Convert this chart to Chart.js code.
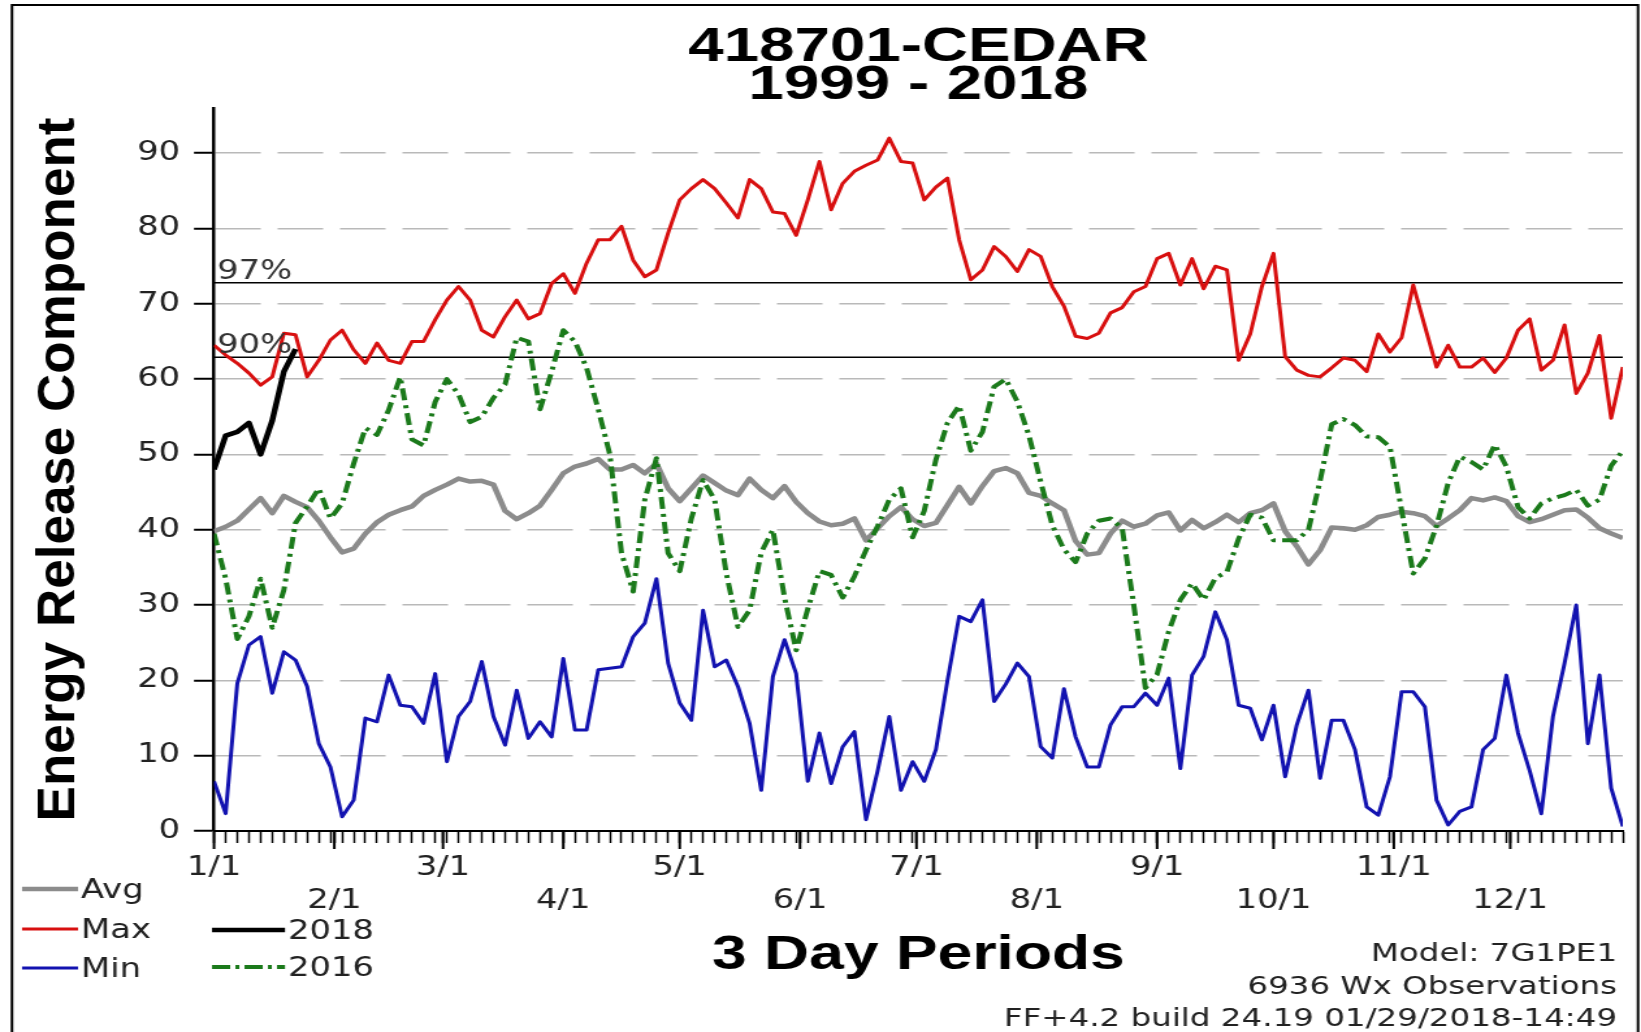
<!DOCTYPE html>
<html lang="en">
<head>
<meta charset="UTF-8">
<title>418701-CEDAR 1999 - 2018</title>
<script src="https://cdn.jsdelivr.net/npm/chart.js"></script>
<style>
  body { margin: 0; background: #fff; }
  #erc { display: block; }
</style>
</head>
<body>
<!-- the original graphic is a horizontally stretched raster:
     draw on a narrower canvas and widen it with an inline style -->
<canvas id="erc" width="1262" height="1032" style="width:1641px;height:1032px"></canvas>
<script>
// 3 day periods, as day offsets from 1/1
const PERIOD_DAYS = Array.from({length: 122}, (_, i) => i * 3);
const MONTH_DAYS = [0, 31, 59, 90, 120, 151, 181, 212, 243, 273, 304, 334];
const MONTH_LABELS = ['1/1', '2/1', '3/1', '4/1', '5/1', '6/1', '7/1', '8/1', '9/1', '10/1', '11/1', '12/1'];

const avgERC = [
  39.8, 40.4, 41.2, 42.7, 44.2, 42.2, 44.5, 43.7, 43.0, 41.2,
  39.0, 37.0, 37.5, 39.5, 41.0, 42.0, 42.6, 43.1, 44.5, 45.3,
  46.0, 46.8, 46.4, 46.5, 46.0, 42.5, 41.4, 42.2, 43.2, 45.3,
  47.5, 48.4, 48.8, 49.4, 48.0, 48.0, 48.6, 47.5, 48.8, 45.5,
  43.8, 45.5, 47.2, 46.2, 45.2, 44.6, 46.8, 45.3, 44.2, 45.8,
  43.7, 42.2, 41.1, 40.6, 40.8, 41.5, 38.6, 40.2, 41.8, 43.0,
  41.4, 40.5, 40.9, 43.3, 45.7, 43.5, 45.8, 47.8, 48.2, 47.5,
  44.9, 44.5, 43.5, 42.6, 38.5, 36.7, 36.9, 39.5, 41.2, 40.4,
  40.8, 41.9, 42.3, 39.9, 41.3, 40.2, 41.0, 42.0, 41.0, 42.2,
  42.6, 43.5, 39.8, 37.8, 35.4, 37.3, 40.3, 40.2, 40.0, 40.6,
  41.7, 42.0, 42.4, 42.2, 41.8, 40.5, 41.5, 42.6, 44.2, 43.9,
  44.3, 43.8, 41.8, 41.0, 41.4, 42.0, 42.6, 42.7, 41.6, 40.2,
  39.5, 38.9
];

const maxERC = [
  64.5, 63.2, 62.1, 60.8, 59.2, 60.3, 66.1, 65.9, 60.3, 62.5,
  65.2, 66.5, 63.9, 62.1, 64.8, 62.5, 62.1, 65.0, 65.0, 67.9,
  70.5, 72.3, 70.5, 66.5, 65.6, 68.3, 70.5, 68.0, 68.7, 72.7,
  74.0, 71.4, 75.4, 78.5, 78.5, 80.3, 75.8, 73.6, 74.5, 79.4,
  83.8, 85.3, 86.5, 85.3, 83.4, 81.4, 86.5, 85.3, 82.2, 82.0,
  79.1, 83.8, 88.9, 82.5, 86.0, 87.6, 88.4, 89.1, 92.0, 88.9,
  88.7, 83.8, 85.5, 86.7, 78.5, 73.2, 74.5, 77.6, 76.3, 74.3,
  77.2, 76.3, 72.3, 69.7, 65.7, 65.4, 66.1, 68.8, 69.5, 71.6,
  72.3, 76.0, 76.7, 72.5, 76.0, 72.0, 75.0, 74.5, 62.5, 66.0,
  72.3, 76.7, 63.0, 61.2, 60.5, 60.3, 61.5, 62.8, 62.5, 61.0,
  66.0, 63.6, 65.5, 72.5, 67.0, 61.6, 64.5, 61.6, 61.6, 62.8,
  60.9, 62.8, 66.5, 68.0, 61.2, 62.5, 67.2, 58.1, 60.8, 65.8,
  54.8, 61.6
];

const minERC = [
  6.6, 2.3, 19.6, 24.7, 25.8, 18.3, 23.8, 22.7, 19.2, 11.6,
  8.5, 1.9, 4.1, 15.0, 14.5, 20.7, 16.7, 16.5, 14.3, 20.9,
  9.2, 15.2, 17.2, 22.5, 15.2, 11.4, 18.7, 12.3, 14.5, 12.5,
  22.9, 13.4, 13.4, 21.4, 21.6, 21.8, 25.8, 27.6, 33.5, 22.3,
  17.0, 14.7, 29.3, 21.8, 22.7, 19.2, 14.3, 5.4, 20.5, 25.4,
  20.9, 6.6, 13.0, 6.3, 11.2, 13.2, 1.5, 8.0, 15.2, 5.4,
  9.2, 6.6, 10.8, 20.0, 28.5, 27.8, 30.7, 17.2, 19.5, 22.3,
  20.5, 11.2, 9.7, 18.9, 12.5, 8.5, 8.5, 14.1, 16.5, 16.5,
  18.3, 16.7, 20.3, 8.3, 20.7, 23.2, 29.1, 25.4, 16.7, 16.3,
  12.1, 16.7, 7.2, 14.1, 18.7, 7.0, 14.7, 14.7, 10.8, 3.2,
  2.1, 7.2, 18.5, 18.5, 16.5, 4.1, 0.8, 2.6, 3.2, 10.8,
  12.3, 20.7, 13.0, 8.0, 2.3, 15.2, 22.3, 30.0, 11.6, 20.7,
  5.7, 0.6
];

const erc2016 = [
  39.5, 33.5, 25.5, 28.5, 33.5, 27.0, 32.0, 40.9, 43.1, 45.5,
  41.5, 43.5, 48.8, 53.5, 52.6, 55.9, 60.3, 52.0, 51.2, 57.0,
  60.0, 58.0, 54.3, 55.0, 57.5, 59.3, 65.5, 65.0, 56.0, 61.0,
  66.5, 65.0, 61.5, 56.0, 50.0, 36.9, 31.8, 44.0, 49.5, 36.9,
  34.5, 41.5, 46.6, 44.0, 34.2, 27.1, 29.3, 37.0, 40.0, 31.0,
  24.0, 29.5, 34.5, 34.0, 31.0, 33.8, 37.3, 40.5, 44.0, 45.5,
  39.0, 42.5, 49.3, 54.2, 56.5, 50.5, 53.0, 59.0, 60.0, 57.0,
  52.5, 46.4, 40.6, 37.4, 35.7, 39.5, 41.2, 41.5, 40.2, 30.0,
  19.0, 20.8, 26.5, 30.7, 32.9, 30.7, 33.6, 34.4, 38.8, 42.0,
  41.6, 38.6, 38.6, 38.6, 40.0, 46.5, 54.0, 54.7, 53.9, 52.4,
  52.3, 51.0, 42.6, 34.2, 36.2, 40.5, 46.2, 49.7, 49.0, 48.0,
  51.3, 48.4, 43.0, 41.5, 43.5, 44.2, 44.6, 45.3, 43.2, 44.0,
  48.5, 50.5
];

const erc2018 = [48.0, 52.5, 53.0, 54.2, 50.0, 54.5, 61.0, 64.0];

// percentile lines
const P97 = 72.8;
const P90 = 62.9;

const STRETCH = 1641 / 1262;
const sx = x => x / STRETCH;   // reference pixels -> canvas pixels (x only)

const AVG_COLOR = '#8c8c8c';
const MAX_COLOR = '#d80f0f';
const MIN_COLOR = '#1212b0';
const C2016 = '#1b7a1b';
const C2018 = '#000000';
const DASH_2016 = [12, 5, 3, 5];

const SMALL_FONT = '"DejaVu Sans", Verdana, sans-serif';
const BOLD_FONT = '"Liberation Sans", Arial, sans-serif';

function toPoints(vals) {
  return vals.map((v, i) => ({x: PERIOD_DAYS[i], y: v}));
}
function flatLine(v) {
  return [{x: PERIOD_DAYS[0], y: v}, {x: PERIOD_DAYS[PERIOD_DAYS.length - 1], y: v}];
}

function text(ctx, str, x, y, font, align, color, baseline) {
  ctx.font = font;
  ctx.fillStyle = color || '#222';
  ctx.textAlign = align || 'left';
  ctx.textBaseline = baseline || 'middle';
  ctx.fillText(str, x, y);
}

const legendItems = [
  {label: 'Avg',  color: AVG_COLOR, width: 4.5, dash: [], x0: 22,  x1: 78,  y: 889},
  {label: 'Max',  color: MAX_COLOR, width: 3,   dash: [], x0: 22,  x1: 78,  y: 929},
  {label: 'Min',  color: MIN_COLOR, width: 3,   dash: [], x0: 22,  x1: 78,  y: 968},
  {label: '2018', color: C2018,     width: 4.5, dash: [], x0: 212, x1: 285, y: 930},
  {label: '2016', color: C2016,     width: 4,   dash: [14, 4, 3, 4], x0: 212, x1: 285, y: 967}
];

// frame, month ticks, percentile labels, axis title, legend and notes
const decor = {
  id: 'decor',
  beforeDraw(chart) {
    const {ctx, width, height} = chart;
    ctx.save();
    ctx.fillStyle = '#fff';
    ctx.fillRect(0, 0, width, height);
    ctx.strokeStyle = '#000';
    ctx.lineWidth = 2;
    ctx.beginPath();
    ctx.moveTo(sx(12), height);
    ctx.lineTo(sx(12), 5);
    ctx.lineTo(sx(1638), 5);
    ctx.lineTo(sx(1638), height);
    ctx.stroke();
    ctx.restore();
  },
  afterDraw(chart) {
    const {ctx, chartArea: area, scales: {x, y}} = chart;
    ctx.save();

    // longer ticks at month starts
    ctx.strokeStyle = '#000';
    ctx.lineWidth = 2;
    MONTH_DAYS.forEach(d => {
      const px = x.getPixelForValue(d);
      ctx.beginPath();
      ctx.moveTo(px, area.bottom);
      ctx.lineTo(px, area.bottom + 18);
      ctx.stroke();
    });

    text(ctx, '97%', sx(217), y.getPixelForValue(P97) - 4, '26px ' + SMALL_FONT, 'left', '#333', 'alphabetic');
    text(ctx, '90%', sx(217), y.getPixelForValue(P90) - 4, '26px ' + SMALL_FONT, 'left', '#333', 'alphabetic');

    // y axis title, kept unstretched like in the original
    ctx.save();
    ctx.translate(sx(60), (area.top + area.bottom) / 2);
    ctx.scale(1 / STRETCH, 1);
    ctx.rotate(-Math.PI / 2);
    text(ctx, 'Energy Release Component', 0, 0, 'bold 53px ' + BOLD_FONT, 'center', '#000');
    ctx.restore();

    // legend
    legendItems.forEach(it => {
      ctx.save();
      ctx.strokeStyle = it.color;
      ctx.lineWidth = it.width;
      ctx.setLineDash(it.dash);
      ctx.beginPath();
      ctx.moveTo(sx(it.x0), it.y);
      ctx.lineTo(sx(it.x1), it.y);
      ctx.stroke();
      ctx.restore();
      text(ctx, it.label, sx(it.x1 + 3), it.y + 2, '26px ' + SMALL_FONT, 'left', '#222');
    });

    // notes
    text(ctx, 'Model: 7G1PE1', sx(1617), 954, '25px ' + SMALL_FONT, 'right', '#222');
    text(ctx, '6936 Wx Observations', sx(1617), 987, '25px ' + SMALL_FONT, 'right', '#222');
    text(ctx, 'FF+4.2 build 24.19 01/29/2018-14:49', sx(1617), 1019, '25px ' + SMALL_FONT, 'right', '#222');

    ctx.restore();
  }
};

Chart.defaults.font.family = SMALL_FONT;

const lineStyle = {pointRadius: 0, tension: 0, fill: false, borderJoinStyle: 'round'};

new Chart(document.getElementById('erc'), {
  type: 'line',
  data: {
    datasets: [
      {label: '2018', data: toPoints(erc2018), borderColor: C2018, borderWidth: 4.5, ...lineStyle},
      {label: 'Max', data: toPoints(maxERC), borderColor: MAX_COLOR, borderWidth: 3, ...lineStyle},
      {label: 'Min', data: toPoints(minERC), borderColor: MIN_COLOR, borderWidth: 3, ...lineStyle},
      {label: '2016', data: toPoints(erc2016), borderColor: C2016, borderWidth: 4, borderDash: DASH_2016, ...lineStyle},
      {label: 'Avg', data: toPoints(avgERC), borderColor: AVG_COLOR, borderWidth: 4.5, ...lineStyle},
      {label: '97%', data: flatLine(P97), borderColor: '#000', borderWidth: 1.5, ...lineStyle},
      {label: '90%', data: flatLine(P90), borderColor: '#000', borderWidth: 1.5, ...lineStyle}
    ]
  },
  options: {
    responsive: false,
    devicePixelRatio: 1,
    animation: false,
    events: [],
    layout: {padding: {top: 0, right: 14, bottom: 0, left: 0}},
    plugins: {
      legend: {display: false},
      tooltip: {enabled: false},
      title: {
        display: true,
        fullSize: false,
        text: ['418701-CEDAR', '1999 - 2018'],
        color: '#000',
        font: {family: BOLD_FONT, size: 49, weight: 'bold', lineHeight: 0.78},
        padding: {top: 28, bottom: 3.6}
      }
    },
    scales: {
      x: {
        type: 'linear',
        min: 0,
        max: PERIOD_DAYS[PERIOD_DAYS.length - 1],
        afterBuildTicks(scale) {
          const days = [...new Set([...PERIOD_DAYS, ...MONTH_DAYS])].sort((a, b) => a - b);
          scale.ticks = days.map(v => ({value: v}));
        },
        afterFit(scale) { scale.height = 201; },
        ticks: {
          autoSkip: false,
          maxRotation: 0,
          minRotation: 0,
          padding: 8.5,
          color: '#222',
          font: {size: 26, lineHeight: 1.27},
          callback(value) {
            const m = MONTH_DAYS.indexOf(value);
            if (m < 0) return '';
            // alternate months sit on a second row
            return m % 2 === 0 ? MONTH_LABELS[m] : ['', MONTH_LABELS[m]];
          }
        },
        grid: {drawOnChartArea: false, tickLength: 12, tickColor: '#000', tickWidth: 1.5},
        border: {color: '#000', width: 2},
        title: {
          display: true,
          text: '3 Day Periods',
          color: '#000',
          font: {family: BOLD_FONT, size: 48, weight: 'bold', lineHeight: 1.2},
          padding: {top: 0, bottom: 47}
        }
      },
      y: {
        min: 0,
        max: 96,
        afterFit(scale) { scale.width = sx(214); },
        ticks: {
          stepSize: 10,
          includeBounds: false,
          padding: 10.7,
          color: '#222',
          font: {size: 26}
        },
        grid: {
          color: ctx => (ctx.tick && ctx.tick.value === 0) ? 'rgba(0,0,0,0)' : '#b9b9b9',
          lineWidth: 1.5,
          tickLength: 15.4,
          tickColor: '#000',
          tickWidth: 2
        },
        border: {color: '#000', width: 2.5, dash: [35, 13]}
      }
    }
  },
  plugins: [decor]
});
</script>
</body>
</html>
